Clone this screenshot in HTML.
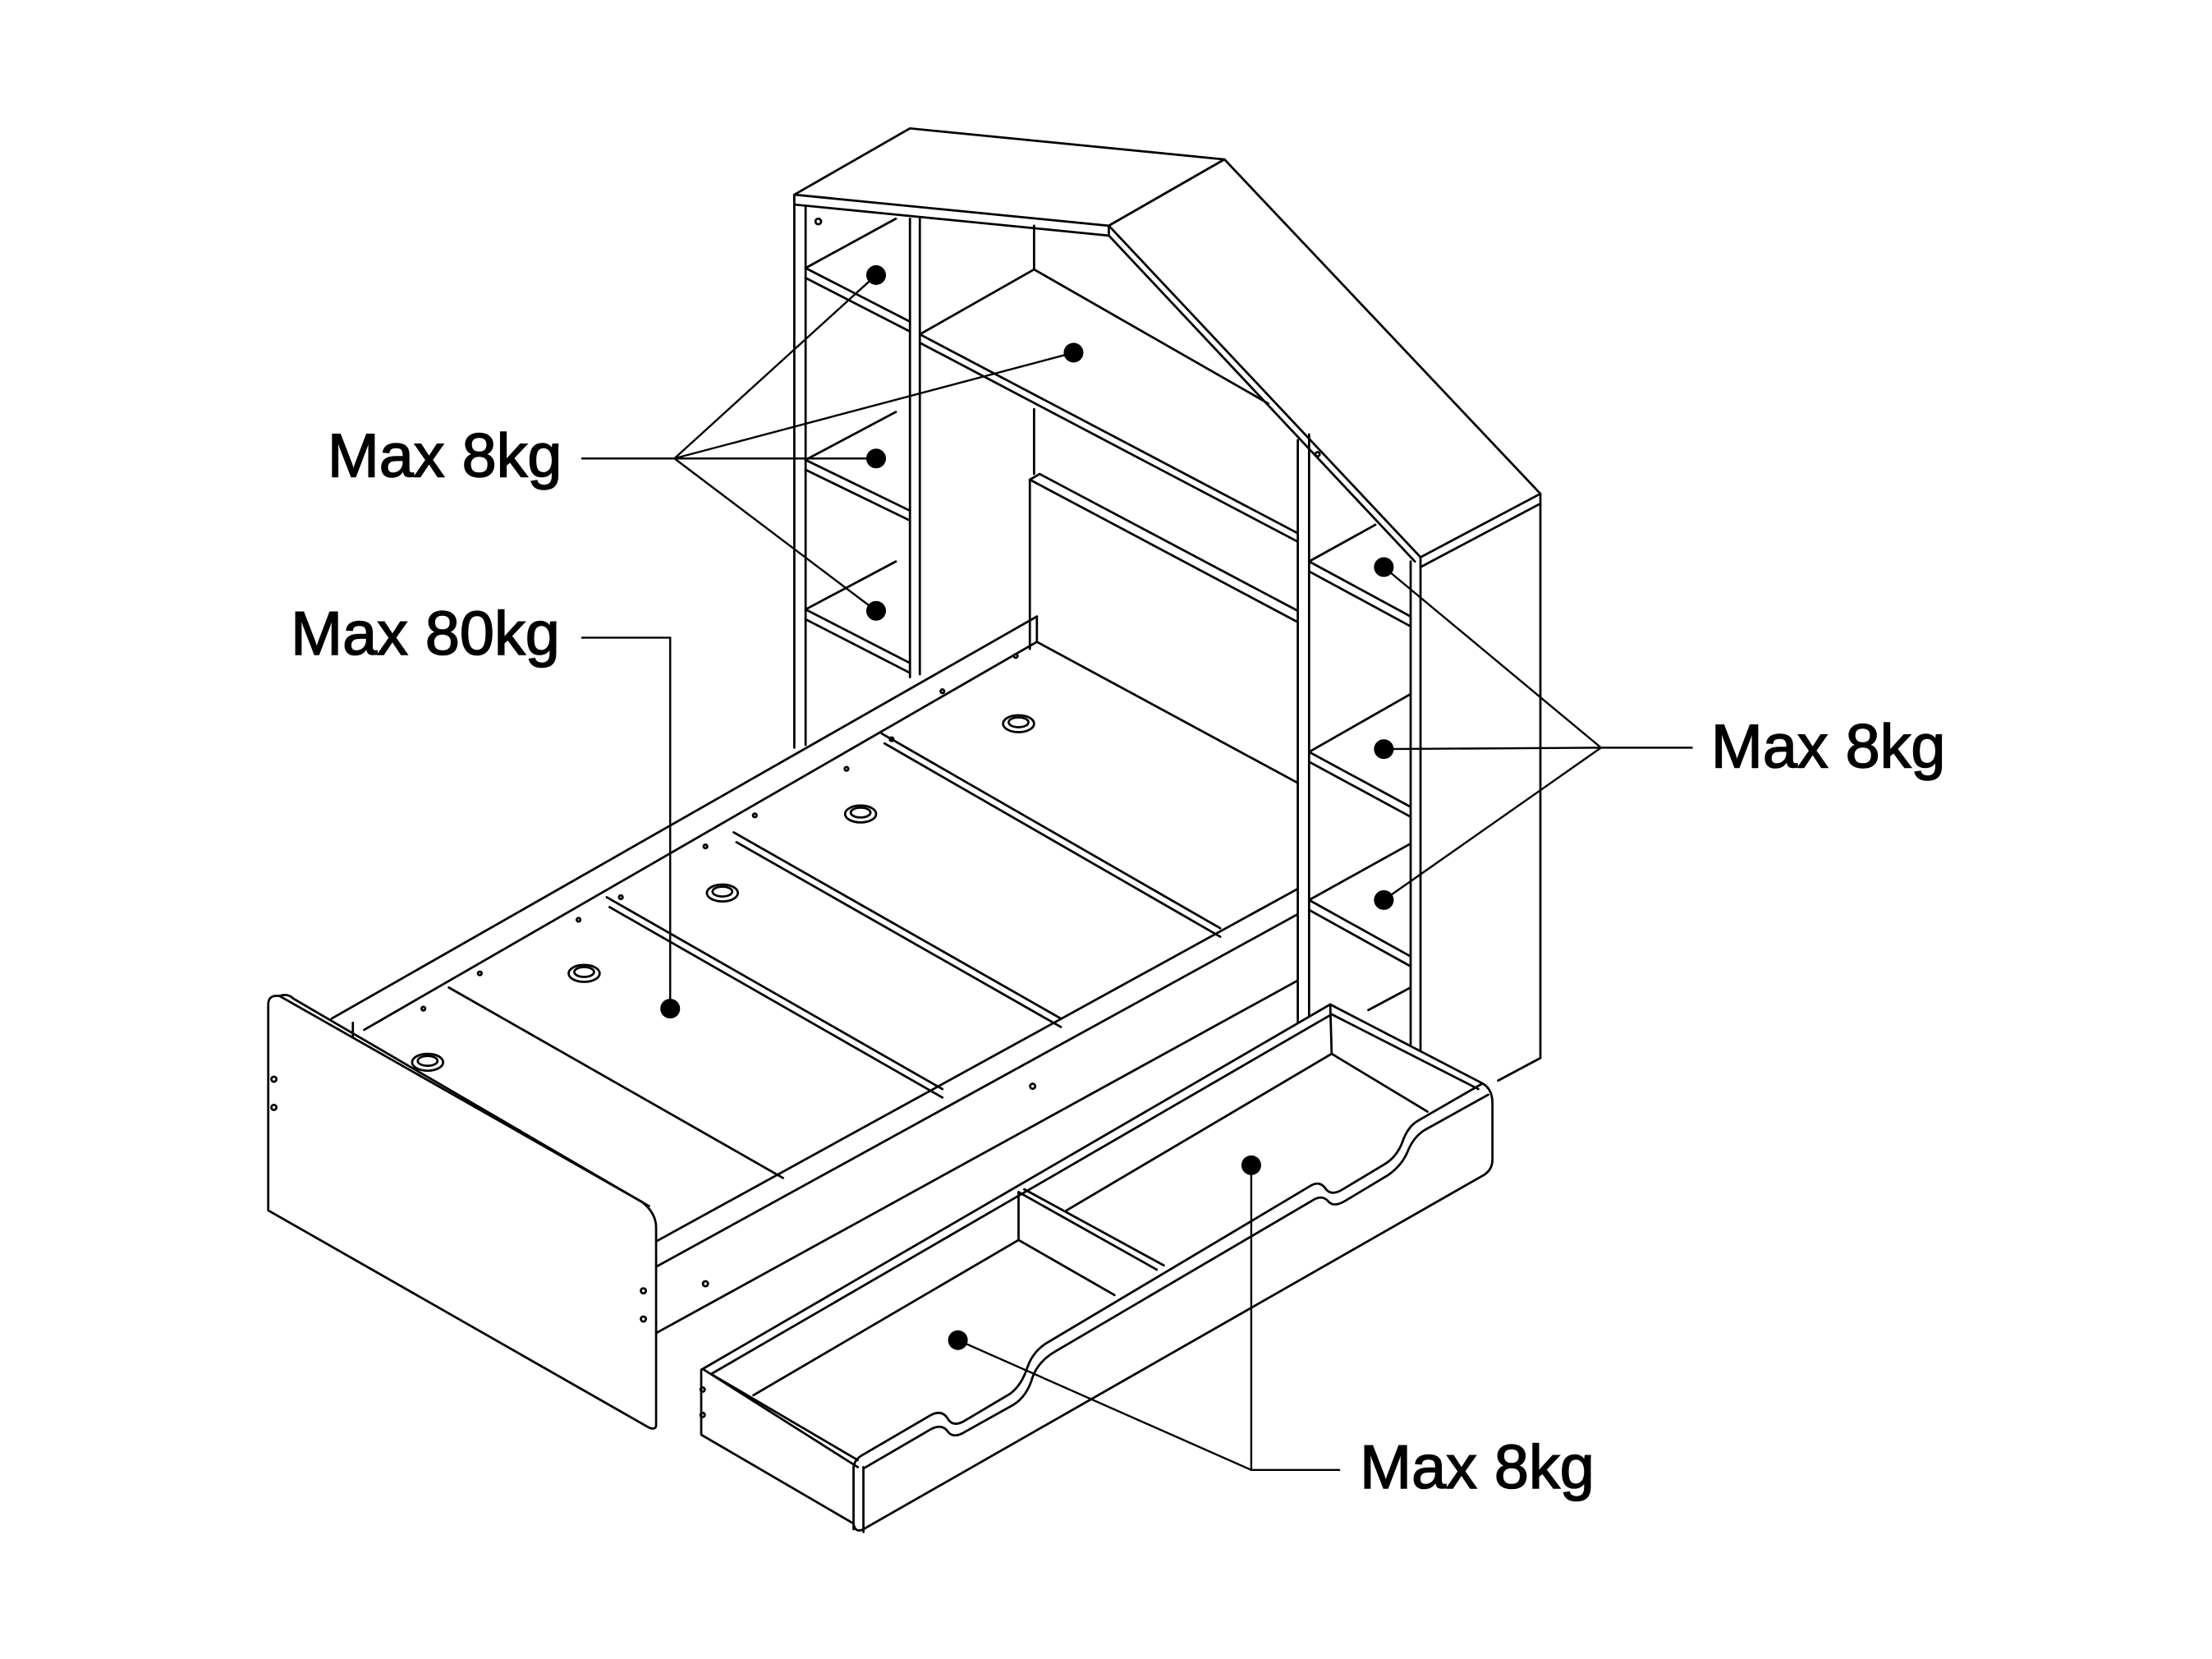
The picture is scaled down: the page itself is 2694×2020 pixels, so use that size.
<!DOCTYPE html>
<html><head><meta charset="utf-8">
<style>
html,body{margin:0;padding:0;background:#fff;}
svg{display:block;}
text{font-family:"Liberation Sans",Arial,sans-serif;font-size:44px;fill:#000;stroke:#000;stroke-width:0.9px;}
</style></head>
<body>
<svg width="2694" height="2020" viewBox="0 0 1568 1176" xmlns="http://www.w3.org/2000/svg">
<g fill="none" stroke="#000" stroke-width="1.6" stroke-linejoin="round" stroke-linecap="round">
<!-- roof top -->
<polygon points="563,138 645,91 868,113 786,160" fill="#fff"/>
<line x1="563" y1="138" x2="563" y2="145"/>
<line x1="563" y1="145" x2="786" y2="167"/>
<line x1="786" y1="160" x2="786" y2="167"/>
<!-- roof slope -->
<polygon points="786,160 868,113 1092,350 1007,395" fill="#fff"/>
<line x1="786" y1="167" x2="1003" y2="398"/>
<line x1="1007" y1="395" x2="1007" y2="402"/>
<line x1="1092" y1="350" x2="1092" y2="357"/>
<line x1="1007" y1="402" x2="1092" y2="357"/>
<!-- right tower -->
<line x1="1007" y1="402" x2="1007" y2="745"/>
<line x1="1000" y1="398" x2="1000" y2="745"/>
<line x1="1092" y1="357" x2="1092" y2="750"/>
<line x1="1092" y1="750" x2="1062" y2="766"/>
<!-- left column -->
<line x1="563" y1="145" x2="563" y2="530"/>
<line x1="571" y1="146" x2="571" y2="528"/>
<line x1="645" y1="155" x2="645" y2="480"/>
<line x1="652" y1="155" x2="652" y2="478"/>
<circle cx="580" cy="157" r="2"/>
<!-- left column shelves -->
<line x1="571" y1="190" x2="635" y2="155"/>
<line x1="571" y1="190" x2="645" y2="228"/>
<line x1="571" y1="197" x2="645" y2="235"/>
<line x1="571" y1="326" x2="635" y2="292"/>
<line x1="571" y1="326" x2="645" y2="362"/>
<line x1="571" y1="333" x2="645" y2="369"/>
<line x1="571" y1="432" x2="635" y2="398"/>
<line x1="571" y1="432" x2="645" y2="470"/>
<line x1="571" y1="439" x2="645" y2="477"/>
<!-- middle shelf / beams -->
<line x1="652" y1="237" x2="733" y2="191"/>
<line x1="652" y1="237" x2="920" y2="378"/>
<line x1="652" y1="243" x2="920" y2="384"/>
<line x1="733" y1="160" x2="733" y2="191"/>
<line x1="733" y1="290" x2="733" y2="336"/>
<line x1="733" y1="191" x2="899" y2="286"/>
<!-- headboard panel -->
<line x1="730" y1="340" x2="737" y2="336"/>
<line x1="737" y1="336" x2="920" y2="433"/>
<line x1="730" y1="340" x2="920" y2="441"/>
<line x1="730" y1="340" x2="730" y2="460"/>
<!-- right column -->
<line x1="920" y1="312" x2="920" y2="732"/>
<line x1="928" y1="308" x2="928" y2="730"/>
<circle cx="934" cy="322" r="1.5"/>
<line x1="928" y1="398" x2="975" y2="372"/>
<line x1="928" y1="398" x2="1000" y2="437"/>
<line x1="928" y1="405" x2="1000" y2="444"/>
<line x1="928" y1="533" x2="1000" y2="492"/>
<line x1="928" y1="533" x2="1000" y2="572"/>
<line x1="928" y1="540" x2="1000" y2="579"/>
<line x1="928" y1="638" x2="1000" y2="598"/>
<line x1="928" y1="638" x2="1000" y2="678"/>
<line x1="928" y1="645" x2="1000" y2="685"/>
<line x1="970" y1="716" x2="1000" y2="700"/>
<!-- back rail -->
<line x1="235" y1="722" x2="735" y2="437"/>
<line x1="735" y1="437" x2="735" y2="455"/>
<line x1="258" y1="730" x2="735" y2="455"/>
<line x1="250" y1="725" x2="250" y2="735"/>
<line x1="735" y1="455" x2="920" y2="555"/>
<!-- slats -->
<line x1="318" y1="700" x2="555" y2="835"/>
<line x1="430" y1="636" x2="668" y2="772"/>
<line x1="432" y1="643" x2="668" y2="778"/>
<line x1="520" y1="590" x2="752" y2="722"/>
<line x1="522" y1="597" x2="752" y2="728"/>
<line x1="625" y1="520" x2="865" y2="658"/>
<line x1="627" y1="527" x2="865" y2="664"/>
<ellipse cx="303" cy="753" rx="11" ry="6"/>
<ellipse cx="303" cy="752" rx="7" ry="3.5"/>
<ellipse cx="414" cy="690" rx="11" ry="6"/>
<ellipse cx="414" cy="689" rx="7" ry="3.5"/>
<ellipse cx="512" cy="633" rx="11" ry="6"/>
<ellipse cx="512" cy="632" rx="7" ry="3.5"/>
<ellipse cx="610" cy="577" rx="11" ry="6"/>
<ellipse cx="610" cy="576" rx="7" ry="3.5"/>
<ellipse cx="722" cy="513" rx="11" ry="6"/>
<ellipse cx="722" cy="512" rx="7" ry="3.5"/>
<!-- front rail -->
<line x1="465" y1="880" x2="920" y2="630"/>
<line x1="465" y1="898" x2="920" y2="648"/>
<line x1="465" y1="945" x2="920" y2="695"/>
<circle cx="732" cy="770" r="1.8"/>
<circle cx="500" cy="910" r="1.8"/>
<!-- footboard -->
<path d="M190,712 Q190,705 198,706 L455,852 Q465,860 465,870 L465,1010 Q465,1014 460,1012 L190,858 Z" fill="#fff"/>
<path d="M198,706 Q204,704 208,708 L460,855"/>
<circle cx="194" cy="765" r="1.8"/><circle cx="194" cy="785" r="1.8"/>
<circle cx="456" cy="915" r="1.8"/><circle cx="456" cy="935" r="1.8"/>
<!-- drawer outer -->
<path d="M497,971 L943,712 L1051,768 Q1058,772 1058,782 L1058,822 Q1058,830 1050,834 L612,1084 Q606,1087 605,1080 L497,1017 Z" fill="#fff"/>
<line x1="504" y1="974" x2="944" y2="719"/>
<line x1="943" y1="712" x2="944" y2="747"/>
<line x1="944" y1="719" x2="1048" y2="772"/>
<line x1="944" y1="747" x2="1012" y2="788"/>
<line x1="756" y1="858" x2="944" y2="747"/>
<line x1="534" y1="989" x2="722" y2="879"/>
<line x1="499" y1="971" x2="608" y2="1040"/>
<line x1="504" y1="974" x2="608" y2="1035"/>
<line x1="605" y1="1040" x2="605" y2="1084"/>
<line x1="612" y1="1040" x2="612" y2="1086"/>
<!-- drawer front top edge with cutouts -->
<path d="M605,1040 Q606,1034 612,1031 L660,1003 Q668,999 672,1006 Q676,1012 684,1007 L716,988 Q724,982 728,970 Q732,958 742,952 L930,840 Q936,837 940,843 Q944,848 952,843 L982,825 Q990,820 994,810 Q998,798 1006,794 L1051,768"/>
<path d="M612,1041 L660,1013 Q668,1009 672,1015 Q676,1020 684,1015 L718,996 Q728,990 732,976 Q736,965 748,958 L932,850 Q938,847 942,852 Q946,856 954,851 L984,833 Q994,826 998,816 Q1002,806 1010,801 L1055,776"/>
<!-- divider -->
<line x1="722" y1="845" x2="820" y2="900"/>
<line x1="726" y1="843" x2="825" y2="897"/>
<line x1="722" y1="845" x2="722" y2="879"/>
<line x1="722" y1="879" x2="790" y2="918"/>
<circle cx="498" cy="985" r="1.5"/><circle cx="498" cy="1003" r="1.5"/>
<!-- small screw dots on rails -->
<circle cx="300" cy="715" r="1.3"/><circle cx="340" cy="690" r="1.3"/>
<circle cx="410" cy="652" r="1.3"/><circle cx="440" cy="636" r="1.3"/>
<circle cx="500" cy="600" r="1.3"/><circle cx="535" cy="578" r="1.3"/>
<circle cx="600" cy="545" r="1.3"/><circle cx="632" cy="524" r="1.3"/>
<circle cx="668" cy="490" r="1.3"/><circle cx="720" cy="465" r="1.3"/>
</g>
<!-- leader lines -->
<g fill="none" stroke="#000" stroke-width="1.4">
<polyline points="412,325 478,325"/>
<line x1="478" y1="325" x2="621" y2="195"/>
<line x1="478" y1="325" x2="761" y2="250"/>
<line x1="478" y1="325" x2="621" y2="325"/>
<line x1="478" y1="325" x2="621" y2="433"/>
<polyline points="412,452 475,452 475,715"/>
<polyline points="1200,530 1135,530"/>
<line x1="1135" y1="530" x2="981" y2="402"/>
<line x1="1135" y1="530" x2="981" y2="531"/>
<line x1="1135" y1="530" x2="981" y2="638"/>
<polyline points="950,1042 887,1042 887,826"/>
<line x1="887" y1="1042" x2="679" y2="950"/>
</g>
<g fill="#000">
<circle cx="621" cy="195" r="7"/><circle cx="761" cy="250" r="7"/>
<circle cx="621" cy="325" r="7"/><circle cx="621" cy="433" r="7"/>
<circle cx="475" cy="715" r="7"/>
<circle cx="981" cy="402" r="7"/><circle cx="981" cy="531" r="7"/><circle cx="981" cy="638" r="7"/>
<circle cx="887" cy="826" r="7"/><circle cx="679" cy="950" r="7"/>
</g>
<text x="232" y="338">Max 8kg</text>
<text x="206" y="464">Max 80kg</text>
<text x="1213" y="544">Max 8kg</text>
<text x="964" y="1055">Max 8kg</text>
</svg>
</body></html>
